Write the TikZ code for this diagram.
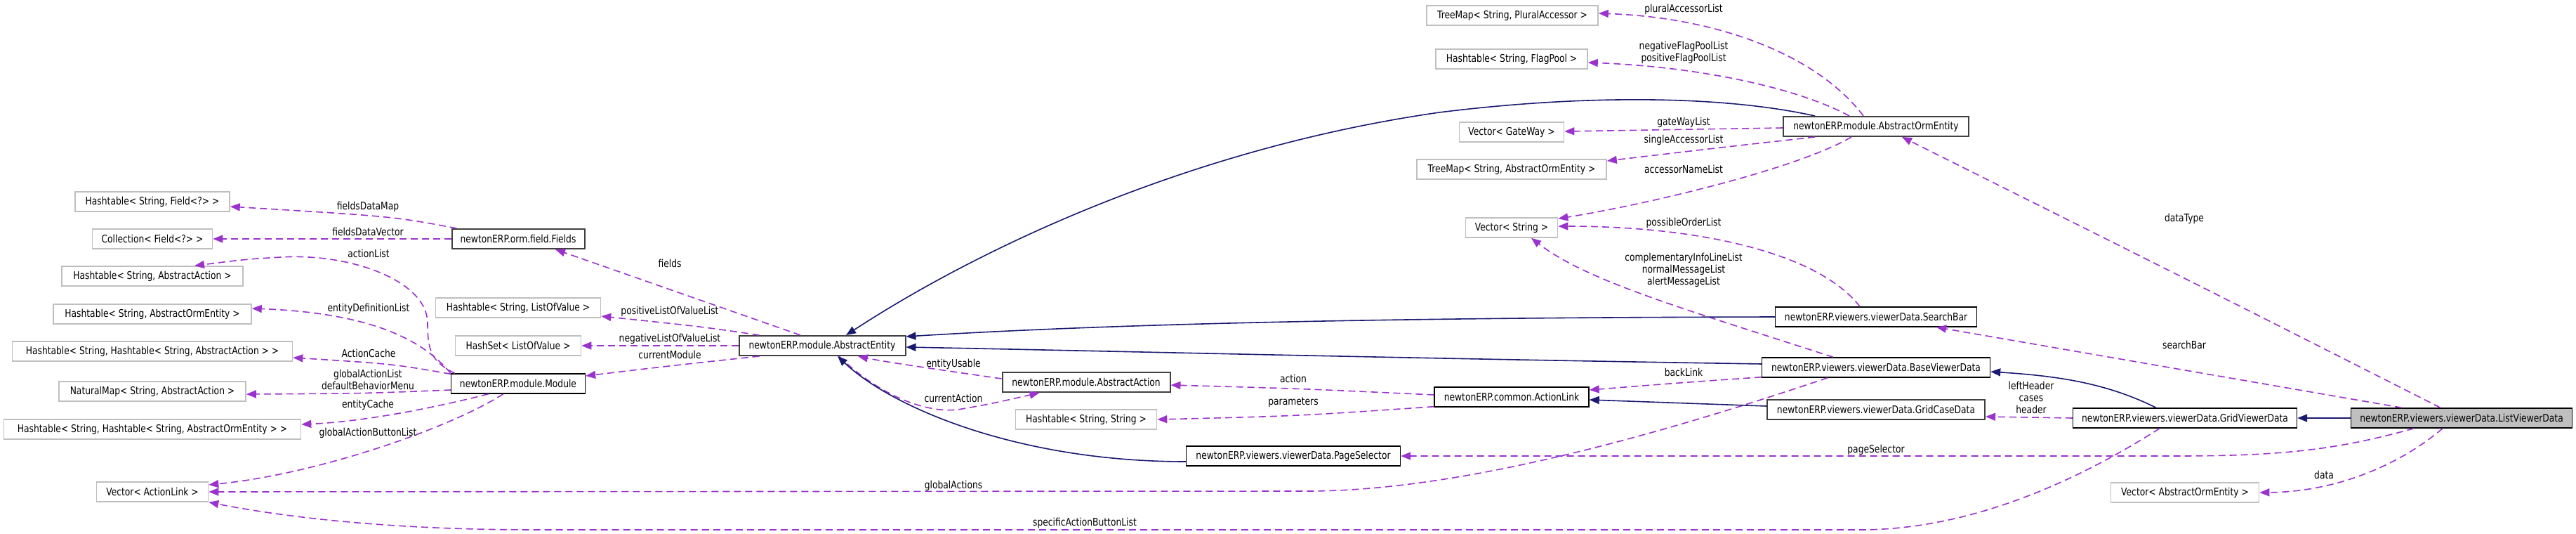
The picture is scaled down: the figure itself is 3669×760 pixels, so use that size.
\documentclass[tikz,border=0pt]{standalone}
\usepackage{fontspec}
\setmainfont{DejaVu Sans}[FakeStretch=0.82]
\usetikzlibrary{arrows.meta,calc}
\definecolor{depc}{HTML}{9A32CD}
\definecolor{inhc}{HTML}{191970}
\definecolor{lgray}{HTML}{BFBFBF}
\definecolor{dgray}{HTML}{404040}
\definecolor{selg}{HTML}{BFBFBF}
\begin{document}
\begin{tikzpicture}[x=1pt,y=-1pt,
 every node/.style={font=\fontsize{15}{17}\selectfont, inner sep=0pt},
 cls/.style={draw=black, line width=1.4pt, fill=white, minimum height=28pt},
 clsg/.style={cls, draw=dgray, line width=2pt},
 ext/.style={draw=lgray, line width=1.6pt, fill=white, minimum height=28pt},
 lbl/.style={align=center},
 depl/.style={draw=depc, line width=1.6pt, dash pattern=on 10pt off 6pt, -{Triangle[length=14pt,width=11pt]}},
 inhl/.style={draw=inhc, line width=1.6pt, -{Triangle[length=14pt,width=11pt]}},
]
\useasboundingbox (0,0) rectangle (3669,760);

% ---- nodes
\node[ext, minimum width=220pt] (htfield) at (217,287) {Hashtable< String, Field<?> >};
\node[ext, minimum width=171pt] (coll) at (217,340) {Collection< Field<?> >};
\node[ext, minimum width=258pt] (htaa) at (217,393) {Hashtable< String, AbstractAction >};
\node[ext, minimum width=282pt] (htaoe) at (217,447) {Hashtable< String, AbstractOrmEntity >};
\node[ext, minimum width=399pt] (hthtaa) at (217,500) {Hashtable< String, Hashtable< String, AbstractAction > >};
\node[ext, minimum width=266pt] (natmap) at (217,557) {NaturalMap< String, AbstractAction >};
\node[ext, minimum width=423pt] (hthtaoe) at (217,611) {Hashtable< String, Hashtable< String, AbstractOrmEntity > >};
\node[ext, minimum width=159pt] (vecal) at (217,700) {Vector< ActionLink >};

\node[clsg, minimum width=189pt] (fields) at (738,340) {newtonERP.orm.field.Fields};
\node[ext, minimum width=235pt] (htlov) at (738,438) {Hashtable< String, ListOfValue >};
\node[ext, minimum width=179pt] (hashset) at (738,492) {HashSet< ListOfValue >};
\node[cls, minimum width=191pt] (module) at (738,546) {newtonERP.module.Module};

\node[clsg, minimum width=237pt] (ae) at (1171,492) {newtonERP.module.AbstractEntity};
\node[clsg, minimum width=239pt] (aa) at (1547,544) {newtonERP.module.AbstractAction};
\node[ext, minimum width=201pt] (htss) at (1547,597) {Hashtable< String, String >};
\node[cls, minimum width=305pt] (pagesel) at (1842,649) {newtonERP.viewers.viewerData.PageSelector};

\node[ext, minimum width=244pt] (tmpa) at (2154,22) {TreeMap< String, PluralAccessor >};
\node[ext, minimum width=216pt] (htfp) at (2153,84) {Hashtable< String, FlagPool >};
\node[ext, minimum width=149pt] (vecgw) at (2153,188) {Vector< GateWay >};
\node[ext, minimum width=270pt] (tmaoe) at (2153,241) {TreeMap< String, AbstractOrmEntity >};
\node[ext, minimum width=131pt] (vecstr) at (2153,324) {Vector< String >};
\node[cls, minimum width=220pt] (actionlink) at (2153,565) {newtonERP.common.ActionLink};

\node[clsg, minimum width=264pt] (aoe) at (2672,180) {newtonERP.module.AbstractOrmEntity};
\node[cls, minimum width=287pt] (searchbar) at (2672,451) {newtonERP.viewers.viewerData.SearchBar};
\node[cls, minimum width=325pt] (bvd) at (2672,523) {newtonERP.viewers.viewerData.BaseViewerData};
\node[clsg, minimum width=310pt] (gcd) at (2672,583) {newtonERP.viewers.viewerData.GridCaseData};

\node[cls, minimum width=319pt] (gvd) at (3112,595) {newtonERP.viewers.viewerData.GridViewerData};
\node[ext, minimum width=211pt] (vecaoe) at (3112,701) {Vector< AbstractOrmEntity >};
\node[cls, fill=selg, minimum width=315pt] (lvd) at (3506,595) {newtonERP.viewers.viewerData.ListViewerData};

% ---- dependency edges
\draw[depl] ($(fields.north west)+(8,0)$) .. controls (560,308) .. ($(htfield.east)+(0,7)$);
\draw[depl] (fields.west) -- (coll.east);
\draw[depl] ($(module.north west)+(6,0)$) .. controls (615,515) and (609,500) .. (609,460)
  .. controls (609,400) and (500,360) .. (400,366) .. controls (350,369) .. ($(htaa.north)+(60,0)$);
\draw[depl] (module.north west) .. controls (600,480) and (520,445) .. ($(htaoe.east)+(0,-8)$);
\draw[depl] ($(module.north west)+(0,1)$) .. controls (560,518) .. ($(hthtaa.east)+(0,9)$);
\draw[depl] ($(module.west)+(0,9)$) .. controls (520,560) .. ($(natmap.east)+(0,4)$);
\draw[depl] ($(module.south west)+(54,0)$) .. controls (620,580) and (520,600) .. ($(hthtaoe.east)+(0,-7)$);
\draw[depl] ($(module.south west)+(75,0)$) .. controls (640,610) and (450,675) .. ($(vecal.east)+(0,-10)$);

\draw[depl] ($(ae.north)+(-31,0)$) -- ($(fields.south)+(53,0)$);
\draw[depl] ($(ae.north west)+(30,0)$) .. controls (1000,465) .. ($(htlov.east)+(0,12)$);
\draw[depl] (ae.west) -- (hashset.east);
\draw[depl] ($(ae.south west)+(30,0)$) .. controls (960,520) .. ($(module.east)+(0,-11)$);
\draw[depl] ($(aa.west)+(0,-5)$) .. controls (1330,525) and (1260,515) .. ($(ae.south)+(51,0)$);
\draw[depl] ($(ae.south)+(24,0)$) .. controls (1260,570) and (1330,590) .. (1370,582)
  .. controls (1410,575) .. ($(aa.south west)+(54,0)$);
\draw[depl] ($(actionlink.west)+(0,-3)$) .. controls (1850,553) .. ($(aa.east)+(0,4)$);
\draw[depl] ($(actionlink.south west)+(0,-1)$) .. controls (1850,592) .. (htss.east);

\draw[depl] ($(aoe.north)+(-18,0)$) .. controls (2590,80) and (2450,25) .. ($(tmpa.east)+(0,-3)$);
\draw[depl] ($(aoe.north)+(-38,0)$) .. controls (2560,125) and (2420,95) .. ($(htfp.east)+(0,5)$);
\draw[depl] ($(aoe.west)+(0,2)$) -- ($(vecgw.east)+(0,-1)$);
\draw[depl] ($(aoe.south)+(-87,0)$) .. controls (2450,210) .. ($(tmaoe.east)+(0,-12)$);
\draw[depl] ($(aoe.south)+(-35,0)$) .. controls (2560,240) and (2350,290) .. ($(vecstr.north east)+(0,2)$);
\draw[depl] ($(searchbar.north)+(-23,0)$) .. controls (2590,360) and (2420,322) .. ($(vecstr.east)+(0,-2)$);
\draw[depl] ($(bvd.north)+(-61,0)$) .. controls (2400,440) and (2260,400) .. ($(vecstr.south)+(28,0)$);
\draw[depl] ($(bvd.south west)+(0,-1)$) .. controls (2390,545) .. ($(actionlink.east)+(0,-10)$);
\draw[depl] ($(bvd.south)+(-69,0)$) .. controls (2300,640) and (2050,699) .. (1861,699) -- (vecal.east);

\draw[depl] ($(lvd.north)+(-30,0)$) .. controls (3100,390) .. ($(aoe.south)+(37,0)$);
\draw[depl] ($(lvd.north)+(-85,0)$) -- ($(searchbar.south)+(86,0)$);
\draw[depl] (gvd.west) -- ($(gcd.east)+(0,10)$);
\draw[depl] ($(lvd.south)+(-68,0)$) .. controls (3330,640) and (3250,649) .. (3100,649) -- (pagesel.east);
\draw[depl] ($(lvd.south)+(-27,0)$) .. controls (3420,660) and (3330,700) .. (vecaoe.east);
\draw[depl] ($(gvd.south)+(-36,0)$) .. controls (2950,690) and (2800,754) .. (2650,754) -- (760,754)
  .. controls (550,754) and (400,735) .. (vecal.south east);

% ---- inheritance edges
\draw[inhl] ($(aoe.north)+(-87,0)$) .. controls (2450,135) and (2250,135) .. (2050,160)
  .. controls (1700,210) and (1400,350) .. ($(ae.north)+(34,0)$);
\draw[inhl] (searchbar.west) .. controls (2000,452) and (1600,460) .. ($(ae.east)+(0,-13)$);
\draw[inhl] ($(bvd.west)+(0,-5)$) .. controls (2000,510) and (1600,500) .. ($(ae.east)+(0,2)$);
\draw[inhl] ($(pagesel.west)+(0,8)$) .. controls (1450,657) and (1270,580) .. ($(ae.south)+(22,0)$);
\draw[inhl] ($(gcd.west)+(0,-5)$) -- ($(actionlink.east)+(0,4)$);
\draw[inhl] ($(gvd.north)+(-41,0)$) .. controls (3000,545) and (2930,535) .. ($(bvd.east)+(0,6)$);
\draw[inhl] (lvd.west) -- (gvd.east);

% ---- labels
\node[lbl] (l1) at (524,294) {fieldsDataMap};
\node[lbl] (l2) at (524,330) {fieldsDataVector};
\node[lbl] (l3) at (525,361) {actionList};
\node[lbl] (l4) at (525,439) {entityDefinitionList};
\node[lbl] (l5) at (525,503) {ActionCache};
\node[lbl] (l6) at (524,540) {globalActionList\\defaultBehaviorMenu};
\node[lbl] (l7) at (524,576) {entityCache};
\node[lbl] (l8) at (524,616) {globalActionButtonList};
\node[lbl] (l9) at (954,375) {fields};
\node[lbl] (l10) at (954,443) {positiveListOfValueList};
\node[lbl] (l11) at (954,482) {negativeListOfValueList};
\node[lbl] (l12) at (954,505) {currentModule};
\node[lbl] (l13) at (1358,518) {entityUsable};
\node[lbl] (l14) at (1358,567) {currentAction};
\node[lbl] (l15) at (1358,691) {globalActions};
\node[lbl] (l16) at (1842,539) {action};
\node[lbl] (l17) at (1842,573) {parameters};
\node[lbl] (l18) at (1545,744) {specificActionButtonList};
\node[lbl] (l19) at (2398,13) {pluralAccessorList};
\node[lbl] (l20) at (2398,75) {negativeFlagPoolList\\positiveFlagPoolList};
\node[lbl] (l21) at (2398,174) {gateWayList};
\node[lbl] (l22) at (2398,199) {singleAccessorList};
\node[lbl] (l23) at (2398,241) {accessorNameList};
\node[lbl] (l24) at (2398,317) {possibleOrderList};
\node[lbl] (l25) at (2398,384) {complementaryInfoLineList\\normalMessageList\\alertMessageList};
\node[lbl] (l26) at (2398,530) {backLink};
\node[lbl] (l27) at (2672,640) {pageSelector};
\node[lbl] (l28) at (2893,566) {leftHeader\\cases\\header};
\node[lbl] (l29) at (3111,311) {dataType};
\node[lbl] (l30) at (3111,491) {searchBar};
\node[lbl] (l31) at (3310,676) {data};
\end{tikzpicture}
\end{document}
